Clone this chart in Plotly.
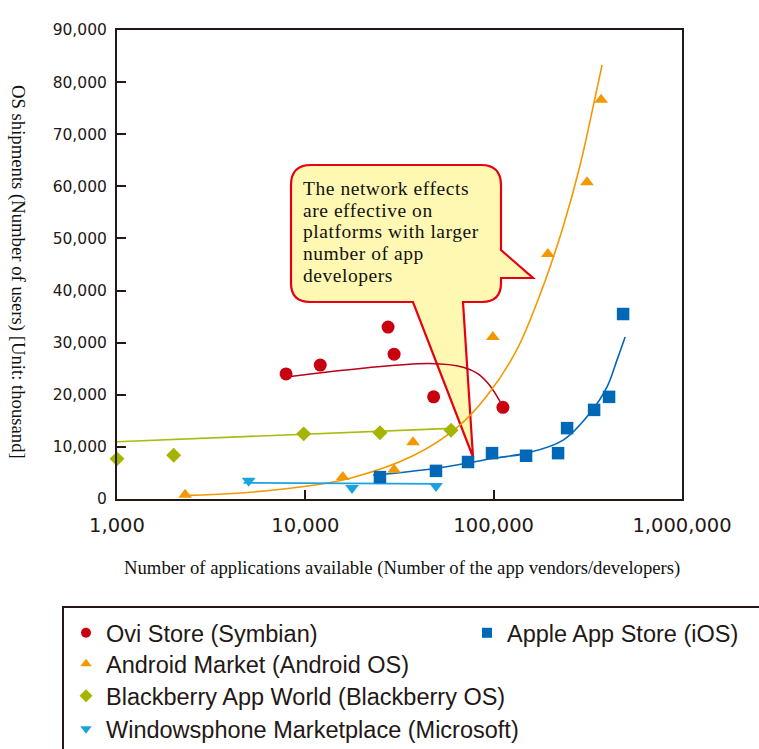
import plotly.graph_objects as go

# ---------------- data ----------------
ovi_x = [7900, 12000, 27500, 29600, 48000, 112000]
ovi_y = [24000, 25700, 33000, 27800, 19600, 17600]

android_x = [2300, 15800, 29600, 37300, 99000, 194000, 313000, 372000]
android_y = [800, 4200, 5600, 10900, 31100, 47000, 60800, 76600]

bb_x = [1000, 2000, 9800, 24900, 59400]
bb_y = [7700, 8400, 12500, 12700, 13200]

apple_x = [24900, 49400, 73100, 98000, 148600, 219800, 245400, 341400, 410000, 486700]
apple_y = [4200, 5400, 7100, 8800, 8300, 8800, 13600, 17100, 19600, 35500]

win_x = [5000, 17700, 49400]
win_y = [3500, 2100, 2500]

# trend curves, points
ovi_fit_x = [7900, 20200, 45900, 68900, 81900, 92300, 99300, 108200]
ovi_fit_y = [23400, 25100, 26000, 25300, 24100, 22400, 20900, 18700]

android_fit_x = [2400, 4100, 9400, 17300, 37300, 63900, 92200, 133000, 183000, 234000, 287500, 337000, 376600]
android_fit_y = [700, 1050, 2300, 4000, 8300, 13700, 19800, 28700, 40800, 52300, 64000, 75200, 83300]

bb_fit_x = [1000, 9800, 17300, 59400]
bb_fit_y = [11000, 12450, 12800, 13550]

apple_fit_x = [22900, 30700, 49500, 73100, 104000, 150000, 234000, 325000, 400000, 452000, 499000]
apple_fit_y = [4600, 5000, 5900, 6900, 7900, 8800, 11300, 16500, 21500, 26700, 31100]

win_fit_x = [4700, 17700, 51900]
win_fit_y = [3100, 3000, 2900]

x_tickvals = [1000, 10000, 100000, 1000000]
x_ticktext = ["1,000", "10,000", "100,000", "1,000,000"]
y_tickvals = [0, 10000, 20000, 30000, 40000, 50000, 60000, 70000, 80000, 90000]
y_ticktext = ["0", "10,000", "20,000", "30,000", "40,000", "50,000", "60,000", "70,000", "80,000", "90,000"]

series_names = ["Ovi Store (Symbian)", "Android Market (Android OS)",
                "Blackberry App World (Blackberry OS)", "Windowsphone Marketplace (Microsoft)",
                "Apple App Store (iOS)"]

callout_lines = ["The network effects", "are effective on", "platforms with larger",
                 "number of app", "developers"]

# ---------------- styling ----------------
RED = "#C8000F"
ORANGE = "#F39800"
OLIVE = "#A5B400"
BLUE = "#0068B7"
LBLUE = "#1BA3E0"
INK = "#231815"

W, H = 759, 749
L, R, T, B = 117, 682, 30, 499


def px(x):
    return (x - L) / (R - L)


def py(y):
    return (B - y) / (B - T)


fig = go.Figure()

# trend lines
for fx, fy, col, shape in [
    (ovi_fit_x, ovi_fit_y, "#B8001A", "spline"),
    (android_fit_x, android_fit_y, ORANGE, "spline"),
    (bb_fit_x, bb_fit_y, "#AABB10", "linear"),
    (apple_fit_x, apple_fit_y, BLUE, "spline"),
    (win_fit_x, win_fit_y, LBLUE, "linear"),
]:
    fig.add_trace(go.Scatter(x=fx, y=fy, mode="lines", showlegend=False, hoverinfo="skip",
                             line=dict(color=col, width=1.6, shape=shape)))

# markers
marker_specs = [
    (ovi_x, ovi_y, RED, "circle", 13),
    (android_x, android_y, ORANGE, "triangle-up", 12),
    (bb_x, bb_y, OLIVE, "diamond", 11.5),
    (win_x, win_y, LBLUE, "triangle-down", 12),
    (apple_x, apple_y, BLUE, "square", 12.5),
]
for (mx, my, col, sym, sz) in marker_specs:
    fig.add_trace(go.Scatter(x=mx, y=my, mode="markers", showlegend=False, cliponaxis=False,
                             marker=dict(color=col, symbol=sym, size=sz, line=dict(width=0))))

# legend entries: each in its own legend box, placed on the reference's rows
legend_ids = ["legend", "legend3", "legend4", "legend5", "legend2"]
for name, lid, (mx, my, col, sym, sz) in zip(series_names, legend_ids, marker_specs):
    fig.add_trace(go.Scatter(x=[None], y=[None], mode="markers", name=name, legend=lid,
                             marker=dict(color=col, symbol=sym, size=10, line=dict(width=0))))

# callout shape (pixel geometry converted to paper coords)
pts = [
    ("M", 311, 165), ("L", 481, 165), ("Q", 501, 165, 501, 185), ("L", 501, 250),
    ("L", 533, 278), ("L", 501, 278), ("L", 501, 283), ("Q", 501, 302, 482, 302),
    ("L", 463, 302), ("L", 473, 457), ("L", 413, 302), ("L", 310, 302),
    ("Q", 291, 302, 291, 283), ("L", 291, 185), ("Q", 291, 165, 311, 165),
]
path = ""
for p in pts:
    cmd = p[0]
    coords = p[1:]
    s = " ".join(f"{px(coords[k]):.5f},{py(coords[k + 1]):.5f}" for k in range(0, len(coords), 2))
    path += f"{cmd}{s} "
path += "Z"

shapes = [
    dict(type="path", path=path, xref="paper", yref="paper", layer="below",
         fillcolor="#FFF8B2", line=dict(color="#E60012", width=2.2)),
    dict(type="rect", xref="paper", yref="paper", x0=px(63), x1=px(820), y0=py(607), y1=py(820),
         line=dict(color=INK, width=2), fillcolor="rgba(0,0,0,0)"),
]

# callout text: one block; base size sets the line pitch, spans set glyph size
callout_text = "<br>".join(
    f'<span style="font-size:19.5px;letter-spacing:0.55px">{t}</span>' for t in callout_lines)
annotations = [
    dict(text=callout_text, xref="paper", yref="paper", x=px(302), y=py(177),
         xanchor="left", yanchor="top", align="left", showarrow=False, borderpad=0,
         font=dict(family="Liberation Serif", size=16.7, color="#111")),
    dict(text="OS shipments (Number of users) [Unit: thousand]", xref="paper", yref="paper",
         x=px(18), y=py(272), textangle=90, showarrow=False,
         xanchor="center", yanchor="middle",
         font=dict(family="Liberation Serif", size=18.7, color="#111")),
    dict(text="Number of applications available (Number of the app vendors/developers)",
         xref="paper", yref="paper", x=px(402), y=py(568), showarrow=False,
         xanchor="center", yanchor="middle",
         font=dict(family="Liberation Serif", size=18.7, color="#111")),
]

leg_font = dict(family="Liberation Sans", size=23.5, color=INK)


def leg(xpix, ytop):
    return dict(x=px(xpix), y=py(ytop), xanchor="left", yanchor="top", orientation="v",
                bgcolor="rgba(0,0,0,0)", borderwidth=0, font=leg_font, itemsizing="trace")


fig.update_layout(
    width=W, height=H,
    margin=dict(l=L, r=W - R, t=T, b=H - B, pad=0, autoexpand=False),
    paper_bgcolor="white", plot_bgcolor="rgba(0,0,0,0)",
    showlegend=True,
    legend=leg(66, 611),
    legend2=leg(467, 611),
    legend3=leg(66, 642),
    legend4=leg(66, 674),
    legend5=leg(66, 707),
    shapes=shapes,
    annotations=annotations,
    xaxis=dict(type="log", range=[2.99999, 6.00001], tickmode="array", tickvals=x_tickvals,
               ticktext=x_ticktext,
               ticks="inside", ticklen=9, tickwidth=2, tickcolor=INK,
               showline=True, linewidth=2, linecolor=INK, mirror=True,
               showgrid=False, zeroline=False, ticklabelstandoff=8,
               tickfont=dict(family="DejaVu Sans", size=19.5, color=INK)),
    yaxis=dict(range=[0, 90000], tickmode="array", tickvals=y_tickvals, ticktext=y_ticktext,
               ticks="inside", ticklen=9, tickwidth=2, tickcolor=INK,
               showline=True, linewidth=2, linecolor=INK, mirror=True,
               showgrid=False, zeroline=False, ticklabelstandoff=5,
               tickfont=dict(family="DejaVu Sans", size=15.5, color=INK)),
)

fig.write_html("out.html", config={"displayModeBar": False},
               post_script="document.body.style.margin='0px';")
